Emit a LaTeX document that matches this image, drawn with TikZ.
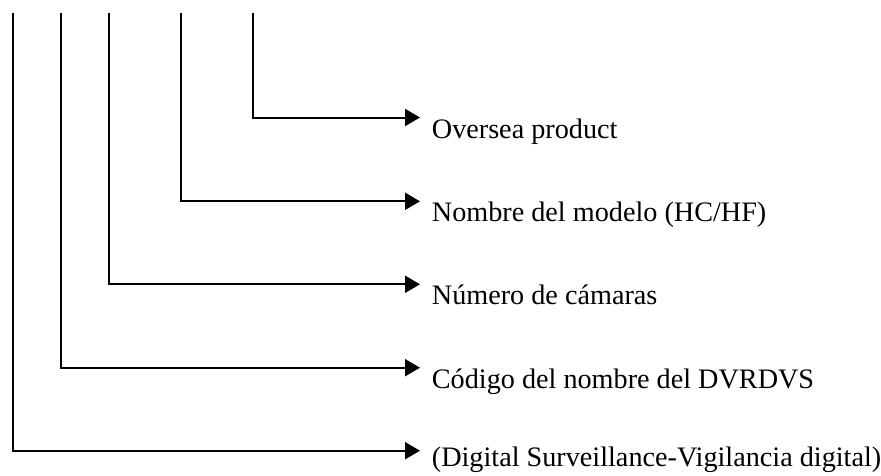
\documentclass[tikz,border=0pt]{standalone}
\usepackage{fontspec}
\setmainfont{Liberation Serif}
\usetikzlibrary{arrows.meta,calc}
\begin{document}
\begin{tikzpicture}[x=1pt,y=-1pt,
  conn/.style={line width=2pt,-{Triangle[length=15pt,width=17pt]}},
  lbl/.style={anchor=base west,inner sep=0pt,font=\fontsize{28.2}{31}\selectfont}]
\useasboundingbox (0,0) rectangle (881,475);
\coordinate (t1) at (13.3,13);
\coordinate (t2) at (61,13);
\coordinate (t3) at (109,13);
\coordinate (t4) at (181.3,13);
\coordinate (t5) at (253,13);
\coordinate (e5) at (420,117.5);
\coordinate (e4) at (420,201.3);
\coordinate (e3) at (420,284.3);
\coordinate (e2) at (420,367.7);
\coordinate (e1) at (420,450.7);
\draw[conn] (t5) |- (e5);
\draw[conn] (t4) |- (e4);
\draw[conn] (t3) |- (e3);
\draw[conn] (t2) |- (e2);
\draw[conn] (t1) |- (e1);
\node[lbl] (l5) at ($(e5)+(11.7,20.5)$) {Oversea product};
\node[lbl] (l4) at ($(e4)+(11.7,20.5)$) {Nombre del modelo (HC/HF)};
\node[lbl] (l3) at ($(e3)+(11.7,20.5)$) {Número de cámaras};
\node[lbl] (l2) at ($(e2)+(11.7,20.5)$) {Código del nombre del DVRDVS};
\node[lbl] (l1) at ($(e1)+(11.7,16)$) {(Digital Surveillance-Vigilancia digital)};
\end{tikzpicture}
\end{document}
